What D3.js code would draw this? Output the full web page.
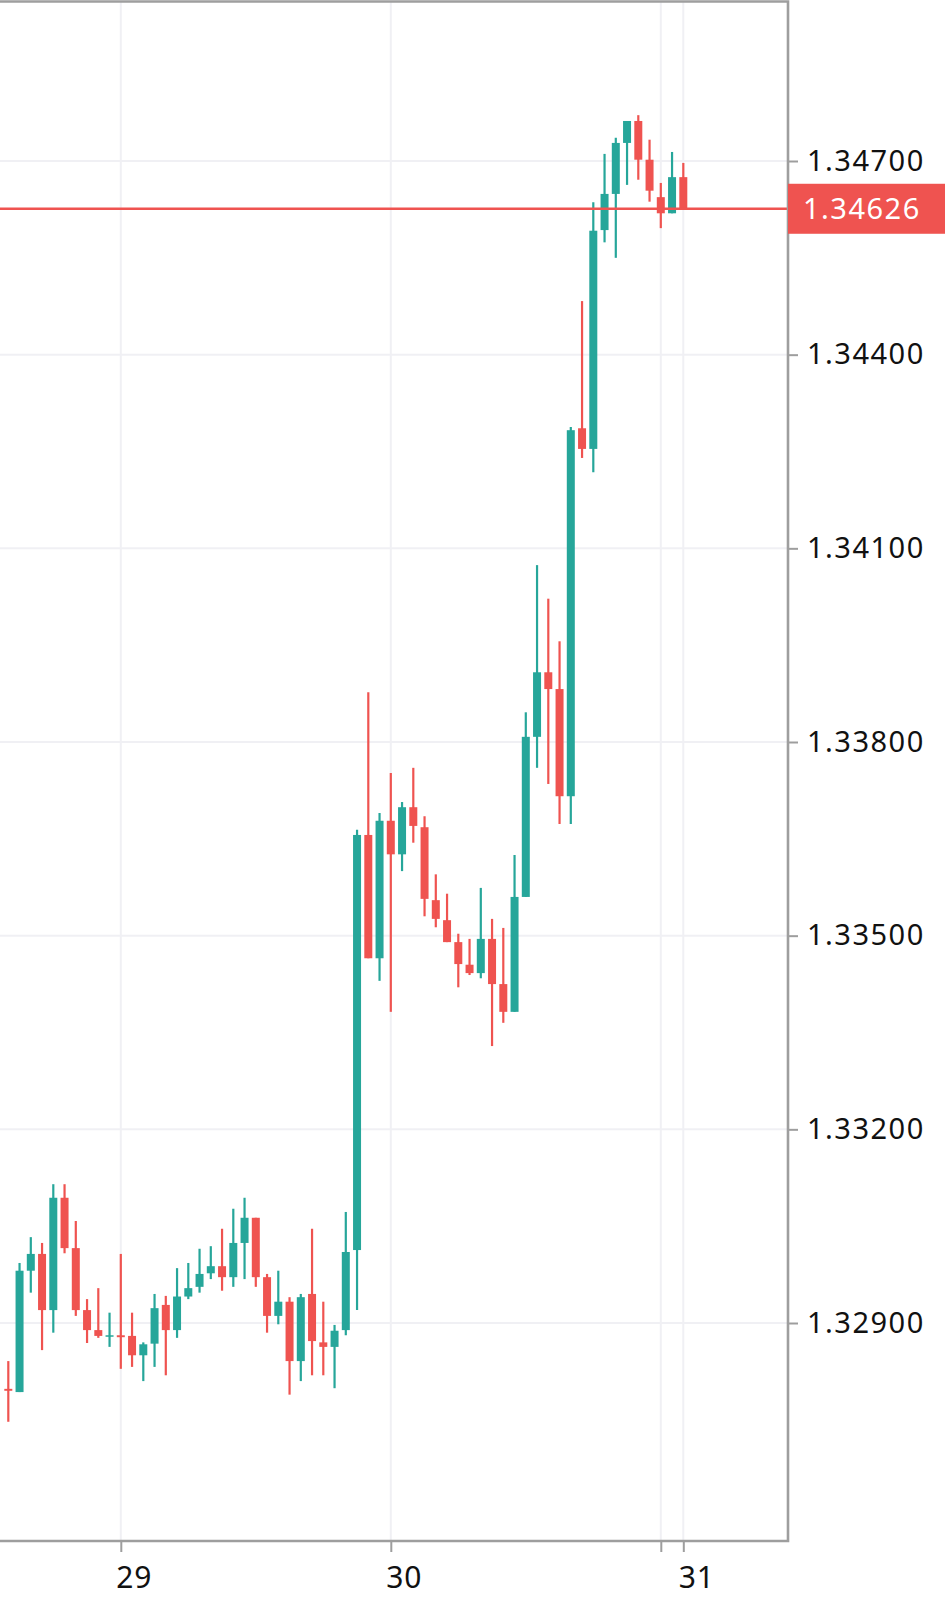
<!DOCTYPE html>
<html>
<head>
<meta charset="utf-8">
<script src="https://cdn.jsdelivr.net/npm/d3@7"></script>
<style>
body { margin: 0; background: #ffffff; }
</style>
</head>
<body>
<script>
const svgWidth = 945
const svgHeight = 1609

const plot = {
    left: 0,
    right: 788,
    top: 1.5,
    bottom: 1541
    }

const upColor = "#26a69a"
const downColor = "#ef5350"
const labelFont = "'Noto Sans', sans-serif"

// hourly candles, first one at 28th 14:00
const firstCandle = new Date(2020, 11, 28, 14)

const opens = [
    1.32798, 1.32793, 1.32981, 1.33007, 1.32920, 1.33094, 1.33016, 1.32920, 1.32889, 1.32879,
    1.32881, 1.32880, 1.32850, 1.32868, 1.32928, 1.32889, 1.32941, 1.32956, 1.32977, 1.32988,
    1.32971, 1.33024, 1.33063, 1.32971, 1.32911, 1.32933, 1.32841, 1.32945, 1.32870, 1.32863,
    1.32889, 1.33013, 1.33656, 1.33465, 1.33678, 1.33626, 1.33699, 1.33668, 1.33555, 1.33524,
    1.33490, 1.33455, 1.33442, 1.33495, 1.33425, 1.33382, 1.33560, 1.33808, 1.33908, 1.33882,
    1.33716, 1.34286, 1.34254, 1.34593, 1.34649, 1.34728, 1.34762, 1.34702, 1.34644, 1.34619,
    1.34675
    ]

const highs = [
    1.32841, 1.32993, 1.33033, 1.33024, 1.33115, 1.33115, 1.33058, 1.32937, 1.32954, 1.32916,
    1.33007, 1.32916, 1.32870, 1.32945, 1.32942, 1.32985, 1.32993, 1.33015, 1.33019, 1.33046,
    1.33077, 1.33094, 1.33063, 1.32976, 1.32981, 1.32940, 1.32945, 1.33046, 1.32933, 1.32897,
    1.33072, 1.33664, 1.33877, 1.33690, 1.33752, 1.33707, 1.33760, 1.33685, 1.33595, 1.33565,
    1.33503, 1.33495, 1.33574, 1.33526, 1.33512, 1.33625, 1.33846, 1.34074, 1.34022, 1.33956,
    1.34288, 1.34483, 1.34636, 1.34711, 1.34736, 1.34762, 1.34771, 1.34733, 1.34666, 1.34714,
    1.34697
    ]

const lows = [
    1.32747, 1.32793, 1.32947, 1.32858, 1.32885, 1.33008, 1.32911, 1.32869, 1.32877, 1.32863,
    1.32829, 1.32832, 1.32810, 1.32832, 1.32819, 1.32877, 1.32937, 1.32947, 1.32968, 1.32950,
    1.32956, 1.32968, 1.32956, 1.32885, 1.32898, 1.32789, 1.32810, 1.32819, 1.32819, 1.32799,
    1.32881, 1.32920, 1.33465, 1.33430, 1.33382, 1.33600, 1.33644, 1.33530, 1.33513, 1.33490,
    1.33420, 1.33439, 1.33434, 1.33329, 1.33365, 1.33382, 1.33560, 1.33760, 1.33735, 1.33673,
    1.33673, 1.34240, 1.34218, 1.34574, 1.34550, 1.34663, 1.34671, 1.34637, 1.34596, 1.34619,
    1.34626
    ]

const closes = [
    1.32795, 1.32981, 1.33007, 1.32920, 1.33094, 1.33016, 1.32920, 1.32889, 1.32880, 1.32881,
    1.32878, 1.32850, 1.32867, 1.32923, 1.32889, 1.32941, 1.32954, 1.32976, 1.32988, 1.32971,
    1.33024, 1.33063, 1.32971, 1.32911, 1.32933, 1.32841, 1.32940, 1.32872, 1.32863, 1.32888,
    1.33010, 1.33656, 1.33465, 1.33678, 1.33626, 1.33699, 1.33670, 1.33557, 1.33526, 1.33490,
    1.33456, 1.33442, 1.33495, 1.33425, 1.33382, 1.33560, 1.33808, 1.33908, 1.33882, 1.33716,
    1.34283, 1.34254, 1.34592, 1.34649, 1.34728, 1.34762, 1.34702, 1.34654, 1.34619, 1.34675,
    1.34626
    ]

const yTicks = [1.32900, 1.33200, 1.33500, 1.33800, 1.34100, 1.34400, 1.34700]

const xTicks = [
    new Date(2020, 11, 29, 0),
    new Date(2020, 11, 30, 0),
    new Date(2020, 11, 31, 0),
    new Date(2020, 11, 31, 2)
    ]
const xTickLabels = ["29", "30", "", "31"]

const candles = opens.map((d, i) => ({
    time: d3.timeHour.offset(firstCandle, i),
    open: d,
    high: highs[i],
    low: lows[i],
    close: closes[i]
    }))

const svg = d3.select("body").append("svg")
    .attr("width", svgWidth)
    .attr("height", svgHeight)
    .style("display", "block")
    .attr("font-family", labelFont)

const x = d3.scaleTime()
    .domain([new Date(2020, 11, 29), new Date(2020, 11, 30)])
    .range([120.8, 390.8])

const y = d3.scaleLinear()
    .domain([1.32900, 1.34700])
    .range([1323, 161])

const bodyWidth = 8

// grid
svg.append("g")
    .selectAll("line")
    .data(xTicks)
    .join("line")
    .attr("x1", d => x(d))
    .attr("x2", d => x(d))
    .attr("y1", plot.top)
    .attr("y2", plot.bottom)
    .attr("stroke", "#f0f0f4")
    .attr("stroke-width", 2)

svg.append("g")
    .selectAll("line")
    .data(yTicks)
    .join("line")
    .attr("x1", plot.left)
    .attr("x2", plot.right)
    .attr("y1", d => y(d))
    .attr("y2", d => y(d))
    .attr("stroke", "#f0f0f4")
    .attr("stroke-width", 2)

// candles
const candleG = svg.append("g")
    .selectAll("g")
    .data(candles)
    .join("g")
    .attr("fill", d => d.close >= d.open ? upColor : downColor)
    .attr("stroke", d => d.close >= d.open ? upColor : downColor)

candleG.append("line")
    .attr("x1", d => x(d.time))
    .attr("x2", d => x(d.time))
    .attr("y1", d => y(d.high))
    .attr("y2", d => y(d.low))
    .attr("stroke-width", 2.2)

candleG.append("rect")
    .attr("x", d => x(d.time) - bodyWidth / 2)
    .attr("width", bodyWidth)
    .attr("y", d => y(Math.max(d.open, d.close)))
    .attr("height", d => Math.max(1.5, Math.abs(y(d.open) - y(d.close))))
    .attr("stroke", "none")

// last price line
const lastClose = closes[closes.length - 1]

svg.append("line")
    .attr("x1", plot.left)
    .attr("x2", plot.right)
    .attr("y1", y(lastClose))
    .attr("y2", y(lastClose))
    .attr("stroke", downColor)
    .attr("stroke-width", 2.5)

// frame
svg.append("path")
    .attr("d", `M${plot.left},${plot.top}H${plot.right}V${plot.bottom}H${plot.left}`)
    .attr("fill", "none")
    .attr("stroke", "#9e9e9e")
    .attr("stroke-width", 2.6)

// axes
const yAxis = d3.axisRight(y)
    .tickValues(yTicks)
    .tickFormat(d3.format(".5f"))
    .tickSize(10)

const yAxisG = svg.append("g")
    .attr("transform", `translate(${plot.right}, 0)`)
    .call(yAxis)

yAxisG.select(".domain").remove()
yAxisG.selectAll(".tick line")
    .attr("stroke", "#9e9e9e")
    .attr("stroke-width", 2)
yAxisG.selectAll(".tick text")
    .attr("x", 19)
    .attr("fill", "#111111")
    .attr("font-size", 29)
    .attr("letter-spacing", 1.5)
    .attr("font-family", labelFont)

const xAxis = d3.axisBottom(x)
    .tickValues(xTicks)
    .tickFormat((d, i) => xTickLabels[i])
    .tickSize(11)

const xAxisG = svg.append("g")
    .attr("transform", `translate(0, ${plot.bottom})`)
    .call(xAxis)

xAxisG.select(".domain").remove()
xAxisG.selectAll(".tick line")
    .attr("stroke", "#9e9e9e")
    .attr("stroke-width", 2)
xAxisG.selectAll(".tick text")
    .attr("y", 47)
    .attr("dy", 0)
    .attr("dx", 13)
    .attr("fill", "#111111")
    .attr("font-size", 30)
    .attr("letter-spacing", 1)
    .attr("font-family", labelFont)

// price label
const labelG = svg.append("g")
    .attr("transform", `translate(${plot.right}, ${y(lastClose)})`)

labelG.append("rect")
    .attr("x", 0)
    .attr("y", -25)
    .attr("width", svgWidth - plot.right)
    .attr("height", 50)
    .attr("fill", downColor)

labelG.append("text")
    .attr("x", 15)
    .attr("dy", "0.35em")
    .attr("fill", "#ffffff")
    .attr("font-size", 29)
    .attr("letter-spacing", 1.5)
    .text(d3.format(".5f")(lastClose))
</script>
</body>
</html>
